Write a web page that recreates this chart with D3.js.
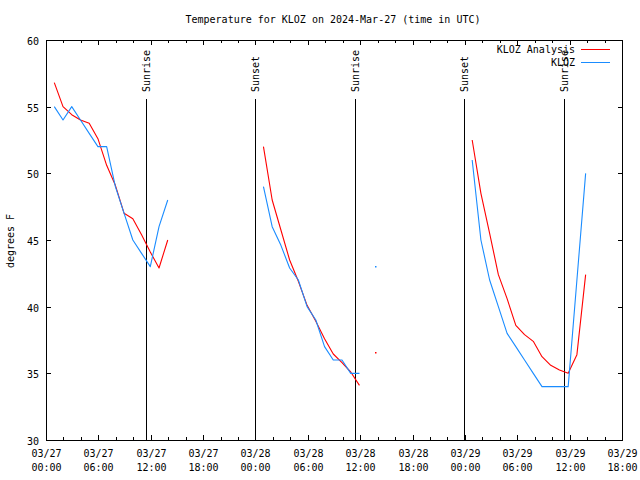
<!DOCTYPE html>
<html><head><meta charset="utf-8">
<script src="https://cdn.jsdelivr.net/npm/d3@7"></script>
<style>
body{margin:0;background:#fff}
svg{display:block;background:#fff}
text{font-family:"DejaVu Sans Mono","Liberation Mono",monospace;font-size:10px;fill:#000}
</style>
</head><body>
<svg id="c" width="640" height="480"></svg>
<script>
// ---------- data ----------
const title = "Temperature for KLOZ on 2024-Mar-27 (time in UTC)";
const yLabel = "degrees F";
const seriesNames = ["KLOZ Analysis", "KLOZ"];
const seriesColors = ["#ff0000", "#1a8cff"];
const yTicks = [30, 35, 40, 45, 50, 55, 60];
const xDomain = ["2024-03-27T00:00Z", "2024-03-29T18:00Z"];
const xTickTimes = ["2024-03-27T00:00Z","2024-03-27T06:00Z","2024-03-27T12:00Z","2024-03-27T18:00Z",
  "2024-03-28T00:00Z","2024-03-28T06:00Z","2024-03-28T12:00Z","2024-03-28T18:00Z",
  "2024-03-29T00:00Z","2024-03-29T06:00Z","2024-03-29T12:00Z","2024-03-29T18:00Z"];
const xTickLabels = [["03/27","00:00"],["03/27","06:00"],["03/27","12:00"],["03/27","18:00"],
  ["03/28","00:00"],["03/28","06:00"],["03/28","12:00"],["03/28","18:00"],
  ["03/29","00:00"],["03/29","06:00"],["03/29","12:00"],["03/29","18:00"]];

// segment 1: 03/27 ~01:00 - 14:00
const seg1Times = ["2024-03-27T00:57Z","2024-03-27T01:57Z","2024-03-27T02:57Z","2024-03-27T03:57Z",
  "2024-03-27T04:57Z","2024-03-27T05:57Z","2024-03-27T06:57Z","2024-03-27T07:57Z","2024-03-27T08:57Z",
  "2024-03-27T09:57Z","2024-03-27T10:57Z","2024-03-27T11:57Z","2024-03-27T12:57Z","2024-03-27T13:57Z"];
const seg1Analysis = [56.8, 55.0, 54.4, 54.0, 53.75, 52.6, 50.6, 49.1, 47.0, 46.6, 45.4, 44.1, 42.9, 45.0];
const seg1Obs      = [55, 54, 55, 54, 53, 52, 52, 49, 47, 45, 44, 43, 46, 48];

// segment 2: 03/28 ~01:00 - 12:00
const seg2Times = ["2024-03-28T00:55Z","2024-03-28T01:55Z","2024-03-28T02:55Z","2024-03-28T03:55Z",
  "2024-03-28T04:55Z","2024-03-28T05:55Z","2024-03-28T06:55Z","2024-03-28T07:55Z","2024-03-28T08:55Z",
  "2024-03-28T09:55Z","2024-03-28T10:55Z","2024-03-28T11:55Z"];
const seg2Analysis = [52.0, 48.0, 45.75, 43.5, 41.9, 40.1, 38.9, 37.6, 36.45, 35.8, 35.1, 34.1];
const seg2Obs      = [49, 46, 44.6, 42.9, 42, 40, 39, 37, 36, 36, 35, 35];

// isolated points: 03/28 13:48
const lonePointTimes = ["2024-03-28T13:48Z"];
const lonePointAnalysis = [36.6];
const lonePointObs = [43];

// segment 3: 03/29 ~01:00 - 14:00
const seg3Times = ["2024-03-29T00:50Z","2024-03-29T01:50Z","2024-03-29T02:50Z","2024-03-29T03:50Z",
  "2024-03-29T04:50Z","2024-03-29T05:50Z","2024-03-29T06:50Z","2024-03-29T07:50Z","2024-03-29T08:50Z",
  "2024-03-29T09:50Z","2024-03-29T10:50Z","2024-03-29T11:50Z","2024-03-29T12:50Z","2024-03-29T13:50Z"];
const seg3Analysis = [52.5, 48.5, 45.5, 42.4, 40.6, 38.6, 37.9, 37.4, 36.25, 35.6, 35.25, 35.0, 36.4, 42.4];
const seg3Obs      = [51, 45, 42, 40, 38, 37, 36, 35, 34, 34, 34, 34, 42, 50];

const eventTimes = ["2024-03-27T11:28Z","2024-03-27T23:54Z","2024-03-28T11:26Z","2024-03-28T23:51Z","2024-03-29T11:24Z"];
const eventLabels = ["Sunrise","Sunset","Sunrise","Sunset","Sunrise"];

// ---------- chart ----------
const parse = d3.utcParse("%Y-%m-%dT%H:%MZ");
const L = 46, R = 622, T = 40, B = 440;
const svg = d3.select("#c");
const x = d3.scaleUtc().domain(xDomain.map(parse)).range([L, R]);
const y = d3.scaleLinear().domain([30, 60]).range([B, T]);
const cr = v => Math.round(v) + 0.5;

// event lines
const ev = svg.append("g");
eventTimes.forEach((t, i) => {
  const xv = cr(x(parse(t)));
  ev.append("line").attr("x1", xv).attr("x2", xv).attr("y1", 99).attr("y2", B)
    .attr("stroke", "#000").attr("stroke-width", 1).attr("shape-rendering", "crispEdges");
  ev.append("text").attr("transform", `translate(${xv},92) rotate(-90)`)
    .attr("text-anchor", "start").attr("dominant-baseline", "middle").text(eventLabels[i]);
});

// frame
svg.append("rect").attr("x", L + 0.5).attr("y", T + 0.5).attr("width", R - L).attr("height", B - T)
  .attr("fill", "none").attr("stroke", "#000").attr("shape-rendering", "crispEdges");

const ax = svg.append("g").attr("stroke", "#000").attr("shape-rendering", "crispEdges");
// y ticks
yTicks.forEach(v => {
  const yv = cr(y(v));
  ax.append("line").attr("x1", L).attr("x2", L + 5).attr("y1", yv).attr("y2", yv);
  ax.append("line").attr("x1", R - 4).attr("x2", R + 1).attr("y1", yv).attr("y2", yv);
  svg.append("text").attr("x", 39).attr("y", yv + 1).attr("text-anchor", "end")
    .attr("dominant-baseline", "middle").text(v);
});
// x major ticks + labels
xTickTimes.forEach((t, i) => {
  const xv = cr(x(parse(t)));
  ax.append("line").attr("x1", xv).attr("x2", xv).attr("y1", B).attr("y2", B - 5);
  ax.append("line").attr("x1", xv).attr("x2", xv).attr("y1", T).attr("y2", T + 5);
  const tx = svg.append("text").attr("text-anchor", "middle").attr("x", xv);
  tx.append("tspan").attr("x", xv).attr("y", 457).text(xTickLabels[i][0]);
  tx.append("tspan").attr("x", xv).attr("y", 471).text(xTickLabels[i][1]);
});
// x minor ticks every 2 hours
d3.utcHour.every(2).range(parse(xDomain[0]), parse(xDomain[1])).forEach(d => {
  if (d.getUTCHours() % 6 === 0) return;
  const xv = cr(x(d));
  ax.append("line").attr("x1", xv).attr("x2", xv).attr("y1", B).attr("y2", B - 3);
  ax.append("line").attr("x1", xv).attr("x2", xv).attr("y1", T).attr("y2", T + 3);
});

// series
const line = d3.line().x(d => x(d.t)).y(d => y(d.v));
const segs = [[seg1Times, seg1Analysis, seg1Obs], [seg2Times, seg2Analysis, seg2Obs], [seg3Times, seg3Analysis, seg3Obs]];
segs.forEach(([ts, a, o]) => {
  [a, o].forEach((vals, si) => {
    svg.append("path").datum(ts.map((t, i) => ({t: parse(t), v: vals[i]})))
      .attr("d", line).attr("fill", "none").attr("stroke", seriesColors[si])
      .attr("stroke-width", 1.1).attr("stroke-linejoin", "round");
  });
});
[lonePointAnalysis, lonePointObs].forEach((vals, si) => {
  lonePointTimes.forEach((t, i) => {
    svg.append("rect").attr("x", Math.floor(x(parse(t)))).attr("y", Math.floor(y(vals[i])))
      .attr("width", 1.5).attr("height", 1.5).attr("fill", seriesColors[si]);
  });
});

// legend
seriesNames.forEach((n, i) => {
  const ly = 49 + i * 13;
  svg.append("text").attr("x", 575).attr("y", ly + 1).attr("text-anchor", "end")
    .attr("dominant-baseline", "middle").text(n);
  svg.append("line").attr("x1", 581).attr("x2", 610).attr("y1", ly + 0.5).attr("y2", ly + 0.5)
    .attr("stroke", seriesColors[i]).attr("stroke-width", 1).attr("shape-rendering", "crispEdges");
});

// title & y label
svg.append("text").attr("x", 333).attr("y", 20).attr("text-anchor", "middle")
  .attr("dominant-baseline", "middle").text(title);
svg.append("text").attr("transform", "translate(11,241) rotate(-90)").attr("text-anchor", "middle")
  .attr("dominant-baseline", "middle").text(yLabel);
</script>
</body></html>
